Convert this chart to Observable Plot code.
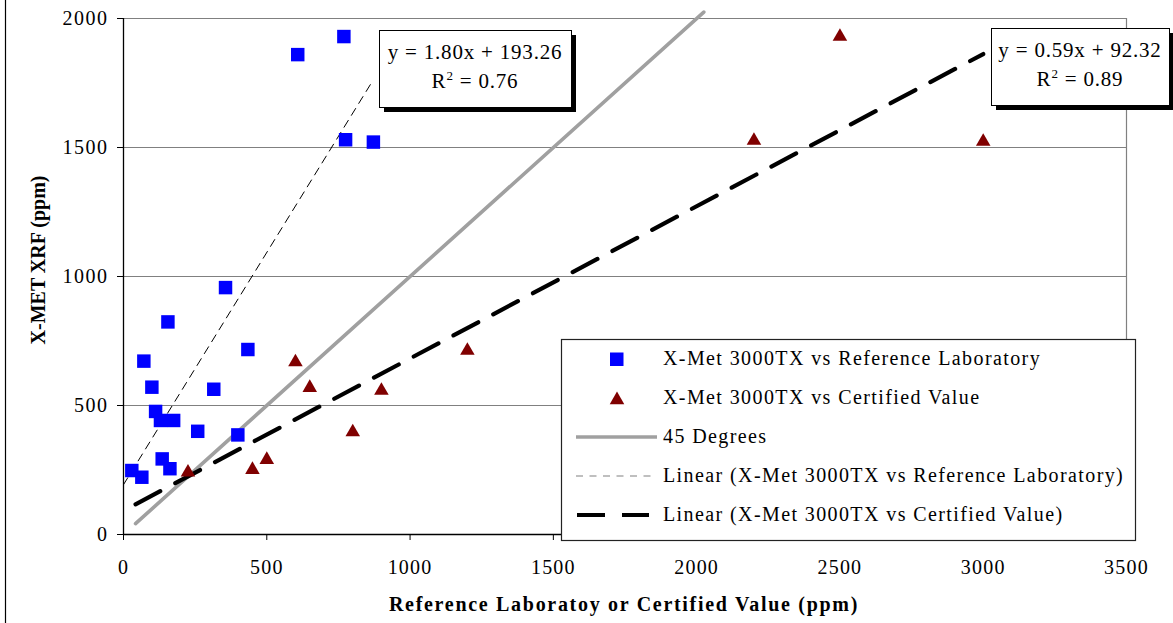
<!DOCTYPE html>
<html>
<head>
<meta charset="utf-8">
<script src="https://cdn.jsdelivr.net/npm/d3@7"></script>
<script src="https://cdn.jsdelivr.net/npm/@observablehq/plot@0.6"></script>
<style>
  html, body { margin: 0; padding: 0; background: white; }
  #chart svg { display: block; }
</style>
</head>
<body>
<div id="chart"></div>
<script>
// ---- data ----
const refX = [155, 71, 99, 315, 434, 112, 129, 175, 259, 399, 135, 162, 29, 64, 608, 769, 775, 872, 356];
const refY = [824, 672, 571, 563, 717, 477, 442, 442, 400, 386, 293, 255, 248, 222, 1860, 1930, 1530, 1521, 957];
const certX = [225, 450, 500, 600, 650, 800, 900, 1200, 2200, 2500, 3000];
const certY = [241, 251, 290, 668, 569, 397, 558, 713, 1527, 1930, 1523];
const fortyX = [42, 2025];
const refTrend = {slope: 1.80, intercept: 193.26, r2: 0.76, from: 0, to: 872};
const certTrend = {slope: 0.59, intercept: 92.32, r2: 0.89, from: 42, to: 3000};
const xTicks = [0, 500, 1000, 1500, 2000, 2500, 3000, 3500];
const yTicks = [0, 500, 1000, 1500, 2000];
const gridY = [500, 1000, 1500, 2000];
const legendLabels = [
  "X-Met 3000TX vs Reference Laboratory",
  "X-Met 3000TX vs Certified Value",
  "45 Degrees",
  "Linear (X-Met 3000TX vs Reference Laboratory)",
  "Linear (X-Met 3000TX vs Certified Value)"
];
const xTitle = "Reference Laboratoy or Certified Value (ppm)";
const yTitle = "X-MET XRF (ppm)";

// ---- derived tables ----
const refData = refX.map((x, i) => ({x, y: refY[i]}));
const certData = certX.map((x, i) => ({x, y: certY[i]}));
const fortyData = fortyX.map(x => ({x, y: x}));
const lineOf = t => [t.from, t.to].map(x => ({x, y: t.slope * x + t.intercept}));

const FONT = "'Liberation Serif', 'Times New Roman', Times, serif";

const chart = Plot.plot({
  width: 1173,
  height: 623,
  marginLeft: 123,
  marginRight: 47,
  marginTop: 18,
  marginBottom: 89,
  x: {domain: [0, 3500]},
  y: {domain: [0, 2000]},
  style: {fontFamily: FONT, fontSize: "20px", background: "white", overflow: "visible", color: "black"},
  marks: [
    Plot.ruleY(gridY, {stroke: "#808080", strokeWidth: 1.2}),
    Plot.ruleX([3500], {stroke: "#808080", strokeWidth: 1.2}),
    Plot.line(fortyData, {x: "x", y: "y", stroke: "#a0a0a0", strokeWidth: 3.6}),
    Plot.line(lineOf(refTrend), {x: "x", y: "y", stroke: "#000", strokeWidth: 1, strokeDasharray: "8,6"}),
    Plot.line(lineOf(certTrend), {x: "x", y: "y", stroke: "#000", strokeWidth: 4.2, strokeDasharray: "28,17"}),
    Plot.dot(refData, {x: "x", y: "y", symbol: "square", fill: "#0000ff", r: 7.6}),
    Plot.dot(certData, {x: "x", y: "y", symbol: "triangle", fill: "#800000", r: 5.4}),
    Plot.axisY({ticks: yTicks, tickSize: 6, tickPadding: 9, label: null, fontSize: 20, stroke: "#000", tickFormat: d => String(d)}),
    Plot.axisX({ticks: xTicks, tickSize: 6, tickPadding: 19, label: null, fontSize: 20, stroke: "#000", tickFormat: d => String(d)}),
    Plot.ruleX([0], {stroke: "#000", strokeWidth: 1.3}),
    Plot.ruleY([0], {stroke: "#000", strokeWidth: 1.3})
  ]
});

document.getElementById("chart").appendChild(chart);

const svg = d3.select(chart);
svg.selectAll('g[aria-label="y-axis tick label"] text').style("letter-spacing", "1.5px");
svg.selectAll('g[aria-label="x-axis tick label"] text').style("letter-spacing", "1.2px");

// outer chart-area border (left edge)
svg.append("line").attr("x1", 5.5).attr("x2", 5.5).attr("y1", 0).attr("y2", 623)
  .attr("stroke", "#000").attr("stroke-width", 1.2);

// axis titles
svg.append("text")
  .attr("transform", "translate(45,260) rotate(-90)")
  .attr("text-anchor", "middle")
  .attr("font-family", FONT).attr("font-weight", "bold").attr("font-size", 20)
  .text(yTitle);
svg.append("text")
  .attr("x", 624).attr("y", 611)
  .attr("text-anchor", "middle")
  .attr("font-family", FONT).attr("font-weight", "bold").attr("font-size", 20)
  .style("letter-spacing", "1.7px")
  .text(xTitle);

// equation boxes
function eqBox(x, y, w, h, t) {
  const g = svg.append("g").attr("font-family", FONT).attr("font-size", 21).style("letter-spacing", "0.8px");
  g.append("rect").attr("x", x + 5).attr("y", y + 5).attr("width", w).attr("height", h).attr("fill", "#000");
  g.append("rect").attr("x", x + 0.5).attr("y", y + 0.5).attr("width", w).attr("height", h)
    .attr("fill", "#fff").attr("stroke", "#000").attr("stroke-width", 1);
  const cx = x + w / 2;
  g.append("text").attr("x", cx).attr("y", y + 29).attr("text-anchor", "middle")
    .text(`y = ${t.slope.toFixed(2)}x + ${t.intercept.toFixed(2)}`);
  const t2 = g.append("text").attr("x", cx).attr("y", y + 58).attr("text-anchor", "middle");
  t2.append("tspan").text("R");
  t2.append("tspan").attr("font-size", 13).attr("dy", -8).text("2");
  t2.append("tspan").attr("dy", 8).text(` = ${t.r2.toFixed(2)}`);
}
eqBox(379, 30, 192, 77, refTrend);
eqBox(991, 28, 178, 77, certTrend);

// legend
const lg = svg.append("g").attr("font-family", FONT).attr("font-size", 20).attr("text-anchor", "start");
lg.append("rect").attr("x", 561.5).attr("y", 339.5).attr("width", 574).attr("height", 201)
  .attr("fill", "#fff").attr("stroke", "#222").attr("stroke-width", 1.2);
const base0 = 365, pitch = 39;
legendLabels.forEach((lab, i) => {
  const b = base0 + i * pitch;
  const cy = b - 6;
  if (i === 0) {
    lg.append("rect").attr("x", 610).attr("y", cy - 6.5).attr("width", 13.5).attr("height", 13.5).attr("fill", "#0000ff");
  } else if (i === 1) {
    lg.append("path").attr("d", d3.symbol(d3.symbolTriangle, 92)()).attr("transform", `translate(617,${cy + 2})`).attr("fill", "#800000");
  } else if (i === 2) {
    lg.append("line").attr("x1", 576).attr("x2", 657).attr("y1", cy).attr("y2", cy).attr("stroke", "#a0a0a0").attr("stroke-width", 3.6);
  } else if (i === 3) {
    lg.append("line").attr("x1", 576).attr("x2", 657).attr("y1", cy).attr("y2", cy).attr("stroke", "#808080").attr("stroke-width", 1.2).attr("stroke-dasharray", "7,6.5");
  } else {
    lg.append("line").attr("x1", 577).attr("x2", 649).attr("y1", cy).attr("y2", cy).attr("stroke", "#000").attr("stroke-width", 4.2).attr("stroke-dasharray", "28,17");
  }
  lg.append("text").attr("x", 663).attr("y", b).attr("text-anchor", "start").style("letter-spacing", "1.4px").text(lab);
});
</script>
</body>
</html>
